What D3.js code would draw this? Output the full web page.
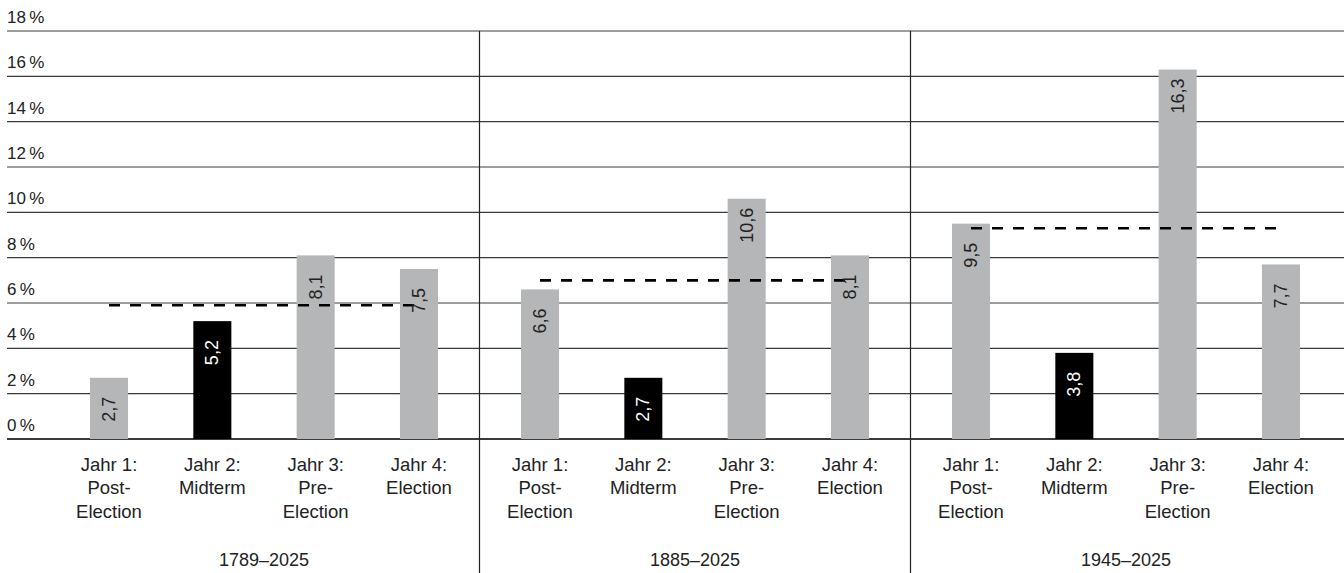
<!DOCTYPE html>
<html>
<head>
<meta charset="utf-8">
<script src="https://cdn.jsdelivr.net/npm/d3@7"></script>
<style>
  html, body { margin: 0; padding: 0; background: #fff; }
  svg { display: block; font-family: "Liberation Sans", Arial, Helvetica, sans-serif; }
</style>
</head>
<body>
<svg id="chart" width="1344" height="573"></svg>
<script>
// ---- data ----
const periods = ["1789–2025", "1885–2025", "1945–2025"];
const categories = ["Jahr 1: Post-Election", "Jahr 2: Midterm", "Jahr 3: Pre-Election", "Jahr 4: Election"];
const categoryLines = [["Jahr 1:", "Post-", "Election"], ["Jahr 2:", "Midterm"], ["Jahr 3:", "Pre-", "Election"], ["Jahr 4:", "Election"]];
const values1789 = [2.7, 5.2, 8.1, 7.5];
const values1885 = [6.6, 2.7, 10.6, 8.1];
const values1945 = [9.5, 3.8, 16.3, 7.7];
const averages = [5.9, 7.0, 9.3];
const yTicks = [0, 2, 4, 6, 8, 10, 12, 14, 16, 18];
const highlightCategory = "Jahr 2: Midterm";

const seriesByPeriod = [values1789, values1885, values1945];
const rows = [];
periods.forEach((p, i) => categories.forEach((c, j) => rows.push({ period: p, category: c, value: seriesByPeriod[i][j] })));

// ---- layout ----
const W = 1344, H = 573;
const svg = d3.select("#chart");
const y = d3.scaleLinear().domain([0, 18]).range([439, 31]);
const x0 = d3.scaleBand().domain(periods).range([48.5, 1341.5]).paddingInner(0).paddingOuter(0);
const x1 = d3.scaleBand().domain(categories).range([0, x0.bandwidth()]).paddingInner(0.632).paddingOuter(0.4017);
const fmt = v => String(v.toFixed(1)).replace(".", ",");

// gridlines
const grid = svg.append("g");
grid.selectAll("line").data(yTicks).join("line")
  .attr("x1", 7).attr("x2", W)
  .attr("y1", d => y(d)).attr("y2", d => y(d))
  .attr("stroke", "#3a3a3a").attr("stroke-width", d => d === 0 ? 2 : 1.2);

// y tick labels
svg.append("g").selectAll("text").data(yTicks).join("text")
  .attr("x", 7).attr("y", d => y(d) - 8)
  .attr("font-size", 17).attr("fill", "#222")
  .text(d => d + "\u2009%");

// separators
svg.append("g").selectAll("line").data(periods.slice(1)).join("line")
  .attr("x1", d => x0(d)).attr("x2", d => x0(d))
  .attr("y1", y(18)).attr("y2", H)
  .attr("stroke", "#222").attr("stroke-width", 1.2);

// bars
const barG = svg.append("g");
barG.selectAll("rect").data(rows).join("rect")
  .attr("x", d => x0(d.period) + x1(d.category))
  .attr("width", x1.bandwidth())
  .attr("y", d => y(d.value))
  .attr("height", d => y(0) - y(d.value))
  .attr("fill", d => d.category === highlightCategory ? "#000" : "#b5b6b8");

// average dashed lines
svg.append("g").selectAll("line").data(periods).join("line")
  .attr("x1", p => x0(p) + x1(categories[0]) + x1.bandwidth() / 2)
  .attr("x2", p => x0(p) + x1(categories[3]) + x1.bandwidth() / 2)
  .attr("y1", (p, i) => y(averages[i]))
  .attr("y2", (p, i) => y(averages[i]))
  .attr("stroke", "#000").attr("stroke-width", 2.6)
  .attr("stroke-dasharray", "11,10");

// value labels
svg.append("g").selectAll("text").data(rows).join("text")
  .attr("transform", d => {
    const cx = x0(d.period) + x1(d.category) + x1.bandwidth() / 2;
    const cy = y(d.value) + 44;
    return `translate(${cx},${cy}) rotate(-90)`;
  })
  .attr("text-anchor", "start")
  .attr("dominant-baseline", "central")
  .attr("font-size", 18)
  .attr("fill", d => d.category === highlightCategory ? "#fff" : "#222")
  .text(d => fmt(d.value));

// category labels
const catG = svg.append("g");
periods.forEach(p => {
  categories.forEach((c, j) => {
    const t = catG.append("text")
      .attr("x", x0(p) + x1(c) + x1.bandwidth() / 2)
      .attr("y", 471)
      .attr("text-anchor", "middle")
      .attr("font-size", 18.5)
      .attr("fill", "#222");
    categoryLines[j].forEach((line, k) => {
      t.append("tspan").attr("x", x0(p) + x1(c) + x1.bandwidth() / 2)
        .attr("dy", k === 0 ? 0 : 23.3).text(line);
    });
  });
});

// period labels
svg.append("g").selectAll("text").data(periods).join("text")
  .attr("x", p => x0(p) + x0.bandwidth() / 2)
  .attr("y", 566)
  .attr("text-anchor", "middle")
  .attr("font-size", 18)
  .attr("fill", "#222")
  .text(p => p);
</script>
</body>
</html>
